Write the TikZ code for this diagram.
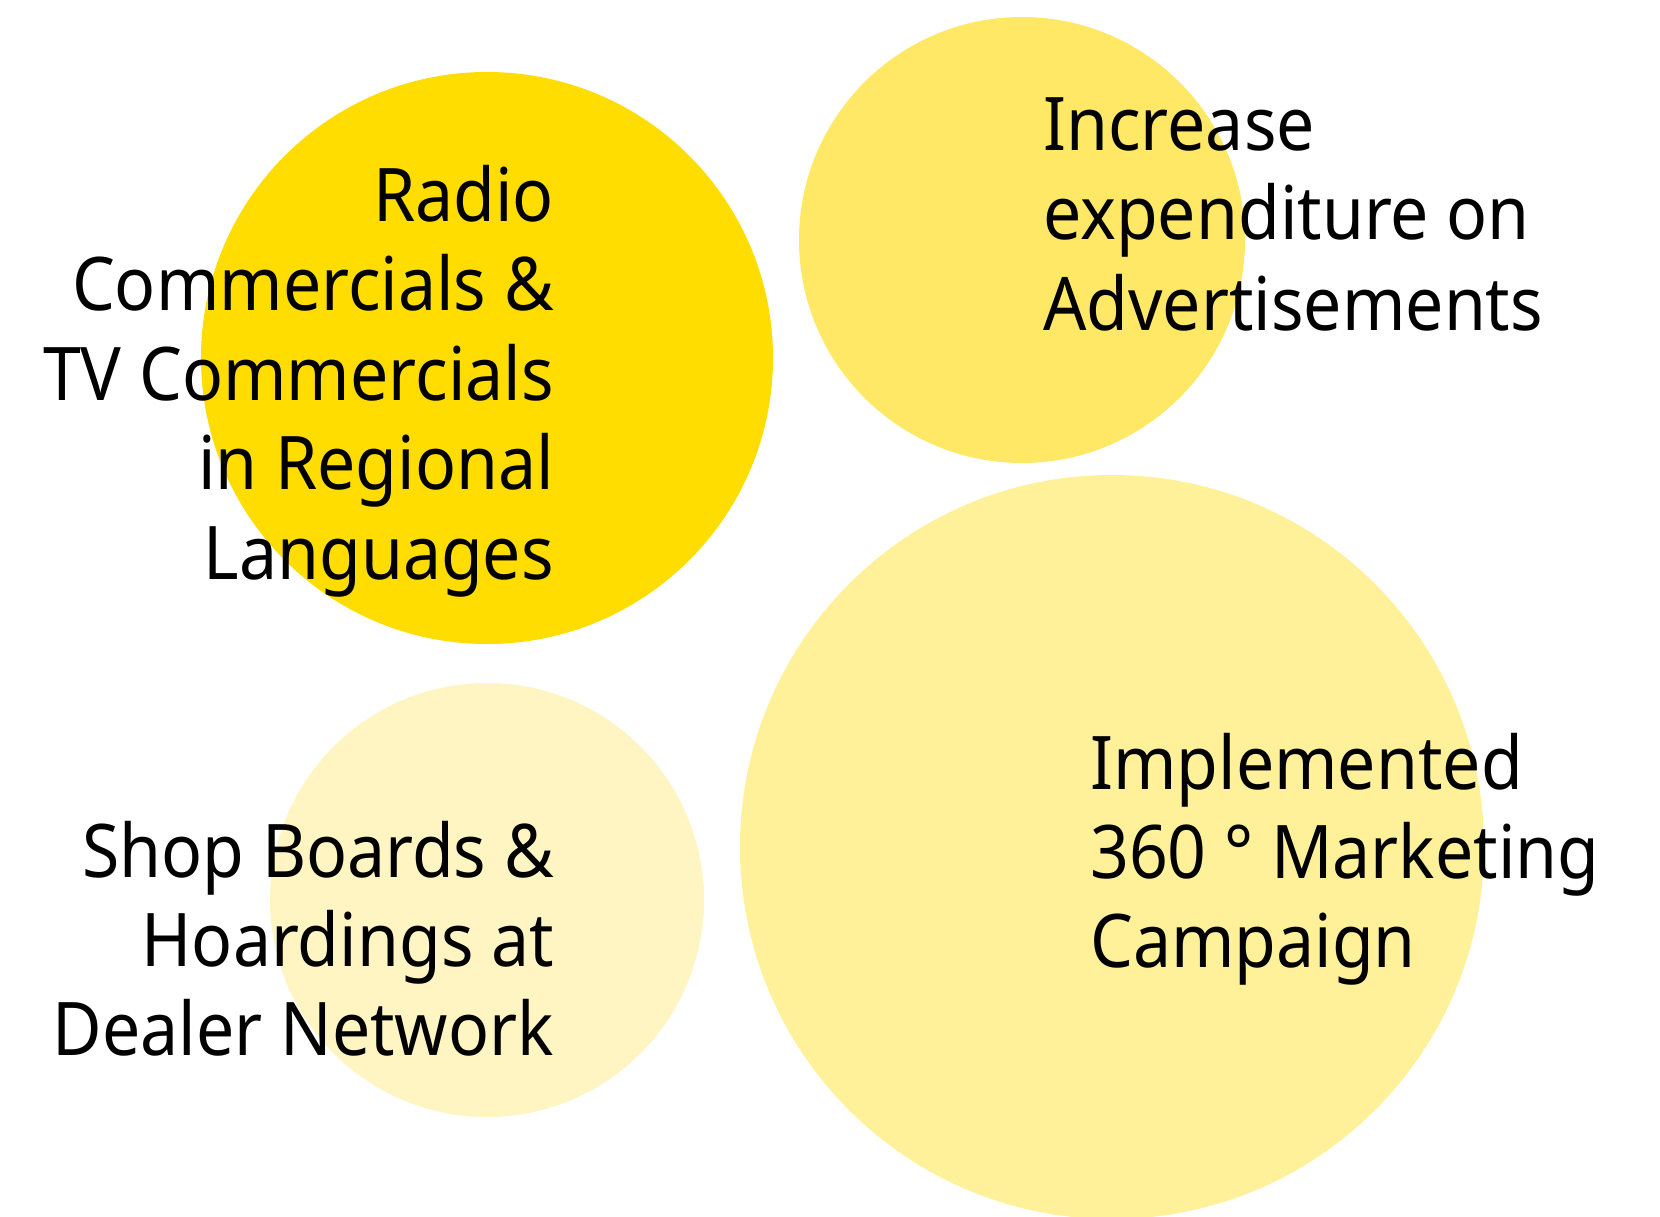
\documentclass[tikz,border=0pt]{standalone}
\usepackage{fontspec}
\setmainfont{Noto Sans}[FakeStretch=0.918]
\definecolor{cA}{HTML}{FFDD00}
\definecolor{cB}{HTML}{FFE866}
\definecolor{cC}{HTML}{FFF5C2}
\definecolor{cD}{HTML}{FFF09A}
\begin{document}
\begin{tikzpicture}[x=1pt,y=-1pt,
  bub/.style={circle,inner sep=0pt,minimum size=#1},
  lbl/.style={inner sep=0pt,font=\fontsize{74}{88}\selectfont}]
\useasboundingbox (0,0) rectangle (1660,1217);
\begin{scope}
\clip (0,0) rectangle (1660,1217);
\node[bub=446pt,fill=cB] (c2) at (1022,240) {};
\node[bub=744pt,fill=cD] (c4) at (1112,847) {};
\node[bub=572pt,fill=cA] (c1) at (487,358) {};
\node[bub=434pt,fill=cC] (c3) at (487,900) {};
\end{scope}
% left-top block
\node[lbl,anchor=base east] (r1) at (554,222) {Radio};
\node[lbl,anchor=base east] (r2) at (554,310) {Commercials \&};
\node[lbl,anchor=base east] (r3) at (554,400) {TV Commercials};
\node[lbl,anchor=base east] (r4) at (554,489) {in Regional};
\node[lbl,anchor=base east] (r5) at (554,579) {Languages};
% left-bottom block
\node[lbl,anchor=base east] (s1) at (554,877) {Shop Boards \&};
\node[lbl,anchor=base east] (s2) at (554,966) {Hoardings at};
\node[lbl,anchor=base east] (s3) at (554,1055) {Dealer Network};
% right-top block
\node[lbl,anchor=base west] (i1) at (1043,151) {Increase};
\node[lbl,anchor=base west] (i2) at (1043,240) {expenditure on};
\node[lbl,anchor=base west] (i3) at (1043,330) {Advertisements};
% right-bottom block
\node[lbl,anchor=base west] (m1) at (1090,789) {Implemented};
\node[lbl,anchor=base west] (m2) at (1090,878) {360 ° Marketing};
\node[lbl,anchor=base west] (m3) at (1090,967) {Campaign};
\end{tikzpicture}
\end{document}
